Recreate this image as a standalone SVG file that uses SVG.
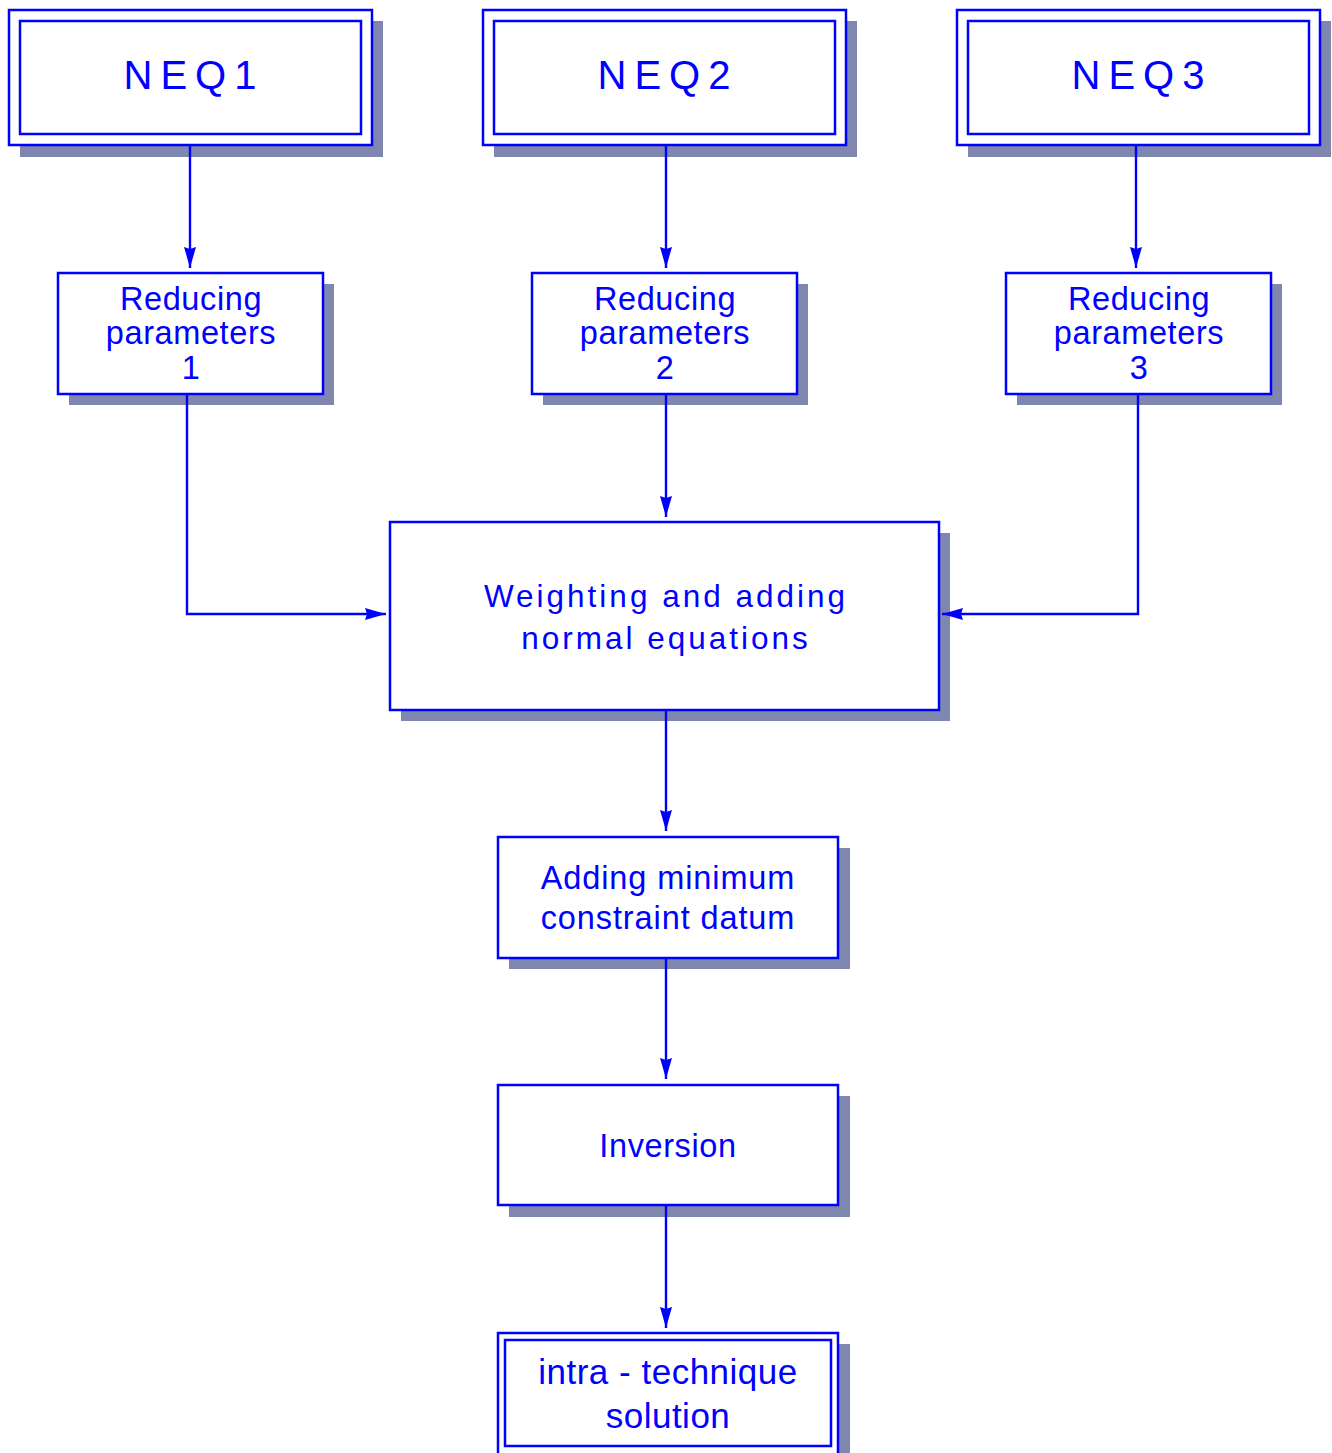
<svg xmlns="http://www.w3.org/2000/svg" width="1332" height="1453" viewBox="0 0 1332 1453">
<style>
.shadow{fill:#8087AE;stroke:none}
.box{fill:#fff;stroke:#0000FF;stroke-width:2.5}
.t{font-family:"Liberation Sans",Arial,sans-serif;fill:#0000FF;text-anchor:middle}
.neq{font-size:40px;letter-spacing:8px}
.red{font-size:32.5px;letter-spacing:0.6px}
.wt{font-size:31.5px;letter-spacing:3px}
.mid{font-size:32.5px;letter-spacing:0.9px}
.fin{font-size:35px;letter-spacing:0.5px}
.c{fill:none;stroke:#0000FF;stroke-width:2.4}
</style>
<defs>
<marker id="ah" markerUnits="userSpaceOnUse" markerWidth="22" markerHeight="14" refX="21" refY="6.5" orient="auto">
<path d="M0,0.5 Q12,4 21,6.5 Q12,9 0,12.5 L2,6.5 z" fill="#0000FF"/>
</marker>
</defs>
<rect width="1332" height="1453" fill="#fff"/>
<g id="neq1">
<rect class="shadow" x="20" y="21" width="363" height="136"/>
<rect class="box" x="9" y="10" width="363" height="135"/>
<rect class="box" x="20" y="21" width="341" height="113"/>
<text class="t neq" x="194" y="89">NEQ1</text>
</g>
<g id="neq2">
<rect class="shadow" x="494" y="21" width="363" height="136"/>
<rect class="box" x="483" y="10" width="363" height="135"/>
<rect class="box" x="494" y="21" width="341" height="113"/>
<text class="t neq" x="668" y="89">NEQ2</text>
</g>
<g id="neq3">
<rect class="shadow" x="968" y="21" width="363" height="136"/>
<rect class="box" x="957" y="10" width="363" height="135"/>
<rect class="box" x="968" y="21" width="341" height="113"/>
<text class="t neq" x="1142" y="89">NEQ3</text>
</g>
<g id="red1">
<rect class="shadow" x="69" y="284" width="265" height="121"/>
<rect class="box" x="58" y="273" width="265" height="121"/>
<text class="t red" x="191" y="310">Reducing</text>
<text class="t red" x="191" y="344">parameters</text>
<text class="t red" x="191" y="379">1</text>
</g>
<g id="red2">
<rect class="shadow" x="543" y="284" width="265" height="121"/>
<rect class="box" x="532" y="273" width="265" height="121"/>
<text class="t red" x="665" y="310">Reducing</text>
<text class="t red" x="665" y="344">parameters</text>
<text class="t red" x="665" y="379">2</text>
</g>
<g id="red3">
<rect class="shadow" x="1017" y="284" width="265" height="121"/>
<rect class="box" x="1006" y="273" width="265" height="121"/>
<text class="t red" x="1139" y="310">Reducing</text>
<text class="t red" x="1139" y="344">parameters</text>
<text class="t red" x="1139" y="379">3</text>
</g>
<g id="weighting">
<rect class="shadow" x="401" y="533" width="549" height="188"/>
<rect class="box" x="390" y="522" width="549" height="188"/>
<text class="t wt" x="666" y="607">Weighting and adding</text>
<text class="t wt" x="666" y="649">normal equations</text>
</g>
<g id="datum">
<rect class="shadow" x="509" y="848" width="341" height="121"/>
<rect class="box" x="498" y="837" width="340" height="121"/>
<text class="t mid" x="668" y="889">Adding minimum</text>
<text class="t mid" x="668" y="929">constraint datum</text>
</g>
<g id="inversion">
<rect class="shadow" x="509" y="1096" width="341" height="121"/>
<rect class="box" x="498" y="1085" width="340" height="120"/>
<text class="t red" x="668" y="1157">Inversion</text>
</g>
<g id="solution">
<rect class="shadow" x="509" y="1344" width="341" height="120"/>
<rect class="box" x="498" y="1333" width="340" height="125"/>
<rect class="box" x="505" y="1340" width="326" height="106"/>
<text class="t fin" x="668" y="1384">intra - technique</text>
<text class="t fin" x="668" y="1428">solution</text>
</g>
<g id="connectors">
<path class="c" d="M190,146 V268" marker-end="url(#ah)"/>
<path class="c" d="M666,146 V268" marker-end="url(#ah)"/>
<path class="c" d="M1136,146 V268" marker-end="url(#ah)"/>
<path class="c" d="M187,395 V614 H386" marker-end="url(#ah)"/>
<path class="c" d="M666,395 V517" marker-end="url(#ah)"/>
<path class="c" d="M1138,395 V614 H942" marker-end="url(#ah)"/>
<path class="c" d="M666,711 V831" marker-end="url(#ah)"/>
<path class="c" d="M666,959 V1079" marker-end="url(#ah)"/>
<path class="c" d="M666,1206 V1328" marker-end="url(#ah)"/>
</g>
</svg>
